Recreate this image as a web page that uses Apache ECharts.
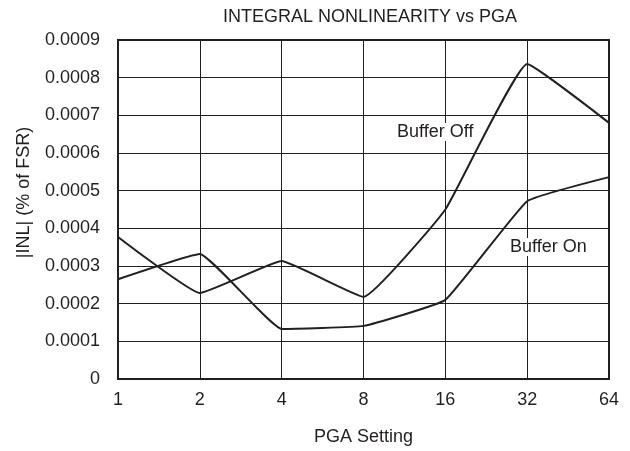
<!DOCTYPE html>
<html>
<head>
<meta charset="utf-8">
<script src="https://cdn.jsdelivr.net/npm/echarts@6/dist/echarts.min.js"></script>
<style>
  html, body { margin: 0; padding: 0; background: #fff; }
  #main { width: 630px; height: 451px; }
</style>
</head>
<body>
<div id="main"></div>
<script>
  // PGA settings along the x axis
  const pgaSettings = ['1', '2', '4', '8', '16', '32', '64']
  // |INL| in % of FSR
  const bufferOff = [0.000377, 0.000228, 0.000313, 0.000218, 0.00045, 0.000836, 0.00068]
  const bufferOn = [0.000265, 0.000332, 0.000133, 0.000141, 0.00021, 0.000472, 0.000536]

  const ink = '#231f20'
  const font = 'Liberation Sans, Arial, sans-serif'

  const myChart = echarts.init(document.getElementById('main'))

  const option = {
    animation: false,
    title: {
      text: 'INTEGRAL NONLINEARITY vs PGA',
      left: 365,
      textAlign: 'center',
      top: 3,
      textStyle: { fontFamily: font, fontSize: 18, fontWeight: 'normal', color: ink }
    },
    grid: {
      left: 118,
      right: 21,
      top: 40,
      bottom: 72,
      show: true,
      borderColor: ink,
      borderWidth: 2
    },
    xAxis: {
      type: 'category',
      data: pgaSettings,
      boundaryGap: false,
      name: 'PGA Setting',
      nameLocation: 'middle',
      nameGap: 49,
      nameTextStyle: { fontFamily: font, fontSize: 18, color: ink },
      axisLine: { lineStyle: { color: ink, width: 2 } },
      axisTick: { show: false },
      axisLabel: { fontFamily: font, fontSize: 18, color: ink, margin: 12 },
      splitLine: { show: true, lineStyle: { color: ink, width: 1 } }
    },
    yAxis: {
      type: 'value',
      min: 0,
      max: 0.0009,
      interval: 0.0001,
      name: '|INL| (% of FSR)',
      nameLocation: 'middle',
      nameGap: 85,
      nameTextStyle: { fontFamily: font, fontSize: 18, color: ink, padding: [0, 0, 0, 34] },
      axisLine: { show: true, lineStyle: { color: ink, width: 2 } },
      axisTick: { show: false },
      axisLabel: {
        fontFamily: font, fontSize: 18, color: ink, margin: 18,
        formatter: v => v === 0 ? '0' : v.toFixed(4)
      },
      splitLine: { show: true, lineStyle: { color: ink, width: 1 } }
    },
    series: [
      {
        name: 'Buffer Off',
        type: 'line',
        data: bufferOff,
        showSymbol: false,
        smooth: 0.1,
        lineStyle: { color: ink, width: 2 },
        z: 3
      },
      {
        name: 'Buffer On',
        type: 'line',
        data: bufferOn,
        showSymbol: false,
        smooth: 0.1,
        lineStyle: { color: ink, width: 2 },
        z: 3
      }
    ],
    graphic: [
      {
        type: 'text', left: 396, top: 123, z: 10,
        style: { text: 'Buffer Off', font: '18px ' + font, fill: ink, backgroundColor: '#fff', padding: [0, 1] }
      },
      {
        type: 'text', left: 509, top: 238, z: 10,
        style: { text: 'Buffer On', font: '18px ' + font, fill: ink, backgroundColor: '#fff', padding: [0, 1] }
      }
    ]
  }

  myChart.setOption(option)
</script>
</body>
</html>
